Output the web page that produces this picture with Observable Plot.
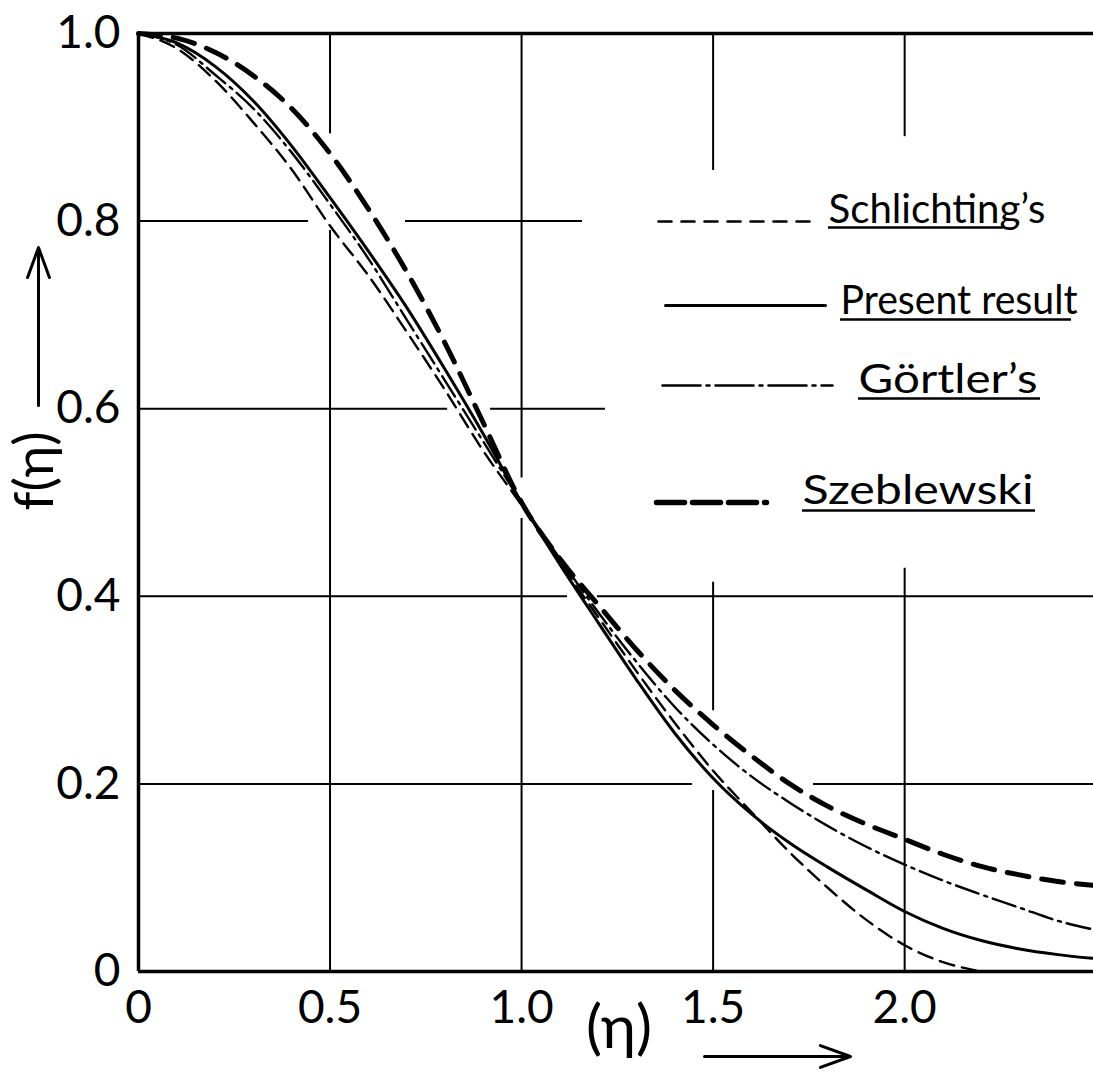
<!DOCTYPE html>
<html>
<head>
<meta charset="utf-8">
<script src="https://cdn.jsdelivr.net/npm/d3@7"></script>
<script src="https://cdn.jsdelivr.net/npm/@observablehq/plot@0.6"></script>
<style>
  html, body { margin: 0; padding: 0; background: #fff; }
  #chart svg { display: block; }
</style>
</head>
<body>
<div id="chart"></div>
<script>
// ---------------- DATA ----------------
const etaValues = [0, 0.1, 0.2, 0.3, 0.4, 0.5, 0.6, 0.7, 0.8, 0.9, 1.0, 1.1, 1.2, 1.3, 1.4, 1.5, 1.6, 1.7, 1.8, 1.9, 2.0, 2.1, 2.2, 2.3, 2.4, 2.49];
const schlichting = [1.0, 0.984, 0.950, 0.905, 0.855, 0.795, 0.742, 0.682, 0.620, 0.555, 0.497, 0.436, 0.378, 0.320, 0.265, 0.214, 0.170, 0.127, 0.089, 0.055, 0.028, 0.010, 0.0];
const presentResult = [1.0, 0.990, 0.965, 0.928, 0.880, 0.825, 0.768, 0.708, 0.642, 0.573, 0.500, 0.434, 0.372, 0.311, 0.254, 0.206, 0.168, 0.137, 0.111, 0.087, 0.064, 0.046, 0.033, 0.024, 0.018, 0.014];
const goertler = [1.0, 0.988, 0.956, 0.920, 0.873, 0.818, 0.760, 0.695, 0.630, 0.565, 0.500, 0.440, 0.383, 0.330, 0.282, 0.242, 0.208, 0.180, 0.155, 0.133, 0.114, 0.097, 0.082, 0.068, 0.054, 0.045];
const szeblewski = [1.0, 0.995, 0.980, 0.955, 0.920, 0.872, 0.813, 0.746, 0.670, 0.585, 0.500, 0.440, 0.391, 0.343, 0.300, 0.263, 0.230, 0.200, 0.176, 0.157, 0.141, 0.125, 0.112, 0.103, 0.096, 0.092];

const seriesNames = ["Schlichting’s", "Present result", "Görtler’s", "Szeblewski"];
const xTicks = [0, 0.5, 1.0, 1.5, 2.0];
const xTickLabels = ["0", "0.5", "1.0", "1.5", "2.0"];
const yTicks = [0, 0.2, 0.4, 0.6, 0.8, 1.0];
const yTickLabels = ["0", "0.2", "0.4", "0.6", "0.8", "1.0"];
const xTitle = "(η)";
const yTitle = "f(η)";

// grid lines as hand drawn (with gaps), in data units
const verticalGrid = [
  {x: 0.5, from: 0.893, to: 1.0}, {x: 0.5, from: 0, to: 0.79},
  {x: 1.0, from: 0.526, to: 1.0}, {x: 1.0, from: 0, to: 0.483},
  {x: 1.5, from: 0.854, to: 1.0}, {x: 1.5, from: 0.278, to: 0.415}, {x: 1.5, from: 0, to: 0.193},
  {x: 2.0, from: 0.89, to: 1.0}, {x: 2.0, from: 0, to: 0.43}
];
const horizontalGrid = [
  {y: 0.8, from: 0, to: 0.444}, {y: 0.8, from: 0.697, to: 1.159},
  {y: 0.6, from: 0, to: 0.807}, {y: 0.6, from: 0.919, to: 1.219},
  {y: 0.4, from: 0, to: 1.12}, {y: 0.4, from: 1.198, to: 2.493},
  {y: 0.2, from: 0, to: 1.446}, {y: 0.2, from: 1.762, to: 2.493}
];

// ---------------- LAYOUT ----------------
const W = 1093, H = 1082;
const mL = 138, mR = 0, mT = 33, mB = 111;
const xMax = 2.493;
const pxToX = px => (px - mL) / (W - mL - mR) * xMax;
const pyToY = py => (H - mB - py) / (H - mB - mT);
const FONT = "Lato, 'Open Sans', sans-serif";

const styles = [
  {strokeWidth: 2.4, dash: "15,8"},          // Schlichting
  {strokeWidth: 3, dash: null},              // Present
  {strokeWidth: 2.4, dash: "24,6,3,6"},      // Görtler
  {strokeWidth: 5, dash: "22,13"}            // Szeblewski
];
const legendStyles = [
  {strokeWidth: 2.6, dash: "13,10"},
  {strokeWidth: 3, dash: null},
  {strokeWidth: 2.6, dash: "38,6,3,6"},
  {strokeWidth: 5.5, dash: "28,8"}
];
// legend pixel layout: sample line [x0,x1,y], text start, baseline, width, underline [u0,u1,uy]
const legendLayout = [
  {x0: 658, x1: 813, ly: 221, tx: 828, base: 222, w: 217, u0: 828, u1: 1003, uy: 227},
  {x0: 665, x1: 825, ly: 305, tx: 840, base: 313, w: 237, u0: 840, u1: 1071, uy: 319},
  {x0: 662, x1: 832, ly: 385, tx: 858, base: 392, w: 179, u0: 858, u1: 1040, uy: 398},
  {x0: 656, x1: 766, ly: 502, tx: 802, base: 503, w: 231, u0: 802, u1: 1035, uy: 510}
];
const legendFont = 40;

const seriesValues = [schlichting, presentResult, goertler, szeblewski];
const rows = seriesValues.map((vals, s) => vals.map((f, i) => ({eta: etaValues[i], f, series: seriesNames[s]})));

const legendLines = legendLayout.map((L) => [
  {x: pxToX(L.x0), y: pyToY(L.ly)}, {x: pxToX(L.x1), y: pyToY(L.ly)}
]);
const legendTexts = legendLayout.map((L, i) => ({
  x: pxToX(L.tx), y: pyToY(L.base - 0.32 * legendFont), label: seriesNames[i]
}));
const legendUnderlines = legendLayout.map((L) => ({
  y: pyToY(L.uy), x1: pxToX(L.u0), x2: pxToX(L.u1)
}));

const arrows = [
  {x1: pxToX(38), y1: pyToY(405), x2: pxToX(38), y2: pyToY(247)},
  {x1: pxToX(704), y1: pyToY(1056), x2: pxToX(850), y2: pyToY(1056)}
];

const marks = [
  Plot.ruleX(verticalGrid, {x: "x", y1: "from", y2: "to", stroke: "black", strokeWidth: 2}),
  Plot.ruleY(horizontalGrid, {y: "y", x1: "from", x2: "to", stroke: "black", strokeWidth: 2}),
  Plot.ruleX([0], {stroke: "black", strokeWidth: 3.5}),
  Plot.ruleY([0, 1], {stroke: "black", strokeWidth: 3.5}),
  ...rows.map((r, s) => Plot.line(r, {
    x: "eta", y: "f", curve: "monotone-x", stroke: "black",
    strokeWidth: styles[s].strokeWidth, strokeDasharray: styles[s].dash
  })),
  ...legendLines.map((l, s) => Plot.line(l, {
    x: "x", y: "y", stroke: "black",
    strokeWidth: legendStyles[s].strokeWidth, strokeDasharray: legendStyles[s].dash
  })),
  Plot.text(legendTexts, {x: "x", y: "y", text: "label", textAnchor: "start", fontSize: legendFont, fontFamily: FONT, fill: "black"}),
  Plot.ruleY(legendUnderlines, {y: "y", x1: "x1", x2: "x2", stroke: "black", strokeWidth: 2.6}),
  Plot.axisX(xTicks, {tickSize: 0, tickPadding: 19, tickFormat: d => xTickLabels[xTicks.indexOf(d)], label: null, fontSize: 46, fontFamily: FONT}),
  Plot.axisY(yTicks, {anchor: "left", tickSize: 0, tickPadding: 18, tickFormat: d => yTickLabels[yTicks.indexOf(d)], label: null, fontSize: 46, fontFamily: FONT}),
  Plot.text([yTitle], {frameAnchor: "left", text: d => d, rotate: -90, dx: -103, dy: 8, fontSize: 54, fontFamily: FONT, fill: "black"}),
  Plot.text([xTitle], {frameAnchor: "bottom", text: d => d, dx: 3, dy: 76, fontSize: 60, fontFamily: FONT, fill: "black"}),
  Plot.arrow(arrows, {x1: "x1", y1: "y1", x2: "x2", y2: "y2", stroke: "black", strokeWidth: 3, headLength: 16, headAngle: 40})
];

const svg = Plot.plot({
  width: W, height: H,
  marginLeft: mL, marginRight: mR, marginTop: mT, marginBottom: mB,
  x: {domain: [0, xMax]},
  y: {domain: [0, 1]},
  style: {fontFamily: FONT, fontSize: "46px", color: "black", background: "white", overflow: "visible"},
  marks
});

// legend text: hand-lettered widths
Array.from(svg.querySelectorAll("text"))
  .filter(t => seriesNames.includes(t.textContent))
  .forEach(node => {
    const L = legendLayout[seriesNames.indexOf(node.textContent)];
    node.setAttribute("textLength", L.w);
    node.setAttribute("lengthAdjust", "spacingAndGlyphs");
  });

document.getElementById("chart").appendChild(svg);
</script>
</body>
</html>
